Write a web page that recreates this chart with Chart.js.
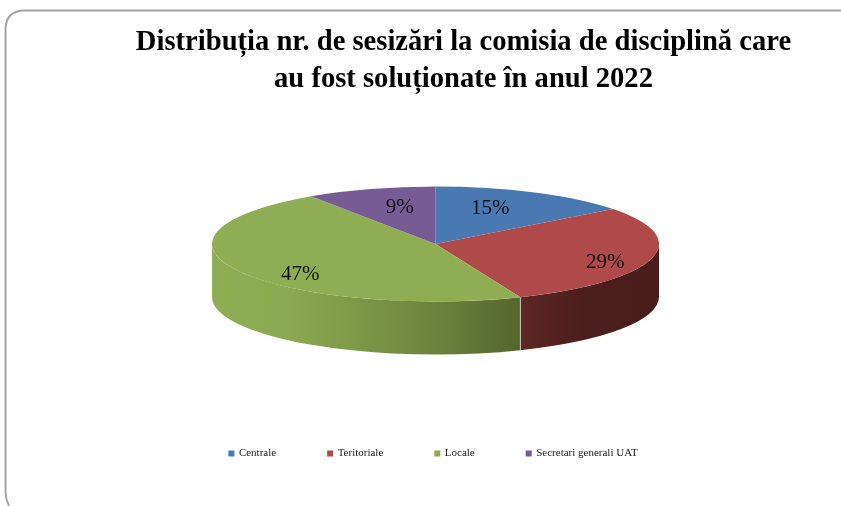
<!DOCTYPE html>
<html>
<head>
<meta charset="utf-8">
<style>html,body{margin:0;padding:0;background:#fff;overflow:hidden}#w{width:841px;height:506px;position:relative}</style>
<script src="https://cdn.jsdelivr.net/npm/chart.js@4/dist/chart.umd.min.js"></script>
</head>
<body>
<div id="w"><canvas id="c" width="841" height="506"></canvas></div>
<script>
const categories = ["Centrale", "Teritoriale", "Locale", "Secretari generali UAT"];
const shareValues = [14.6, 29.2, 46.8, 9.4];
const sliceColors = ["#4A78B0", "#B04A48", "#8FAD53", "#775B94"];
const titleLines = ["Distribuția nr. de sesizări la comisia de disciplină care", "au fost soluționate în anul 2022"];
const shownPercent = ["15%", "29%", "47%", "9%"];

const PIE = { cx: 435.5, cy: 244, rx: 223.5, ry: 57.5, depth: 53 };
// label anchor as fraction of the ellipse radii
const labelAnchor = [[0.245, -0.62], [0.76, 0.32], [-0.605, 0.53], [-0.16, -0.63]];
const wallStops = [
  null,
  [[0, "#5E2725"], [0.45, "#4C1E1D"], [1, "#4A1C1B"]],
  [[0, "#8FAD53"], [0.25, "#8BA950"], [0.65, "#728A42"], [1, "#55662E"]],
  null
];

const pie3d = {
  id: "pie3d",
  beforeDraw(chart) {
    const c = chart.ctx;
    c.save();
    c.strokeStyle = "#A3A3A3";
    c.lineWidth = 2;
    c.beginPath();
    c.moveTo(841, 10.5);
    c.lineTo(25, 10.5);
    c.quadraticCurveTo(5.5, 10.5, 5.5, 30);
    c.lineTo(5.5, 492);
    c.quadraticCurveTo(5.5, 499, 9, 506);
    c.stroke();
    c.restore();
  },
  beforeDatasetsDraw(chart) {
    const c = chart.ctx, arcs = chart.getDatasetMeta(0).data;
    // side wall, built from the arcs the library computed
    arcs.forEach((a, i) => {
      const s = Math.max(a.startAngle, 0), e = Math.min(a.endAngle, Math.PI);
      if (e <= s || !wallStops[i]) return;
      const x0 = PIE.cx + PIE.rx * Math.cos(s), x1 = PIE.cx + PIE.rx * Math.cos(e);
      const g = c.createLinearGradient(Math.min(x0, x1), 0, Math.max(x0, x1), 0);
      const stops = wallStops[i];
      stops.forEach(st => g.addColorStop(st[0], st[1]));
      c.beginPath();
      c.ellipse(PIE.cx, PIE.cy, PIE.rx, PIE.ry, 0, s, e);
      c.ellipse(PIE.cx, PIE.cy + PIE.depth, PIE.rx, PIE.ry, 0, e, s, true);
      c.closePath();
      c.fillStyle = g;
      c.fill();
    });
    // junction highlight between the two visible wall pieces
    const j = arcs[1].endAngle;
    const jx = PIE.cx + PIE.rx * Math.cos(j), jy = PIE.cy + PIE.ry * Math.sin(j);
    c.save();
    c.strokeStyle = "rgba(225,225,215,0.75)";
    c.lineWidth = 1;
    c.beginPath();
    c.moveTo(jx, jy);
    c.lineTo(jx, jy + PIE.depth);
    c.stroke();
    c.restore();
    // squash the library's circle into the tilted ellipse
    const a = arcs[0];
    c.save();
    c.translate(PIE.cx, PIE.cy);
    c.scale(PIE.rx / a.outerRadius, PIE.ry / a.outerRadius);
    c.translate(-a.x, -a.y);
  },
  afterDatasetsDraw(chart) {
    const c = chart.ctx;
    c.restore();
    c.save();
    c.fillStyle = "#111";
    c.font = '21px "Liberation Serif"';
    c.textAlign = "center";
    c.textBaseline = "middle";
    shownPercent.forEach((t, i) => {
      c.fillText(t, PIE.cx + labelAnchor[i][0] * PIE.rx, PIE.cy + labelAnchor[i][1] * PIE.ry);
    });
    c.restore();
  },
  afterLayout(chart) {
    chart.titleBlock.left += 60;
  }
};

new Chart(document.getElementById("c"), {
  type: "pie",
  plugins: [pie3d],
  data: {
    labels: categories,
    datasets: [{
      data: shareValues,
      backgroundColor: sliceColors,
      borderWidth: 0,
      clip: false
    }]
  },
  options: {
    responsive: false,
    animation: false,
    events: [],
    layout: { padding: { left: 26, right: 0, top: 0, bottom: 37 } },
    plugins: {
      tooltip: { enabled: false },
      title: {
        display: true,
        text: titleLines,
        color: "#000",
        font: { family: '"Liberation Serif"', size: 28.6, weight: "bold", lineHeight: 1.29 },
        padding: { top: 24, bottom: 4 }
      },
      legend: {
        position: "bottom",
        labels: {
          boxWidth: 4,
          boxHeight: 4,
          padding: 52,
          color: "#222",
          font: { family: '"Liberation Serif"', size: 11 },
          generateLabels(chart) {
            return categories.map((name, i) => ({
              text: name,
              fillStyle: sliceColors[i],
              strokeStyle: sliceColors[i],
              lineWidth: 2,
              hidden: false,
              index: i,
              fontColor: "#222"
            }));
          }
        }
      }
    }
  }
});
</script>
</body>
</html>
